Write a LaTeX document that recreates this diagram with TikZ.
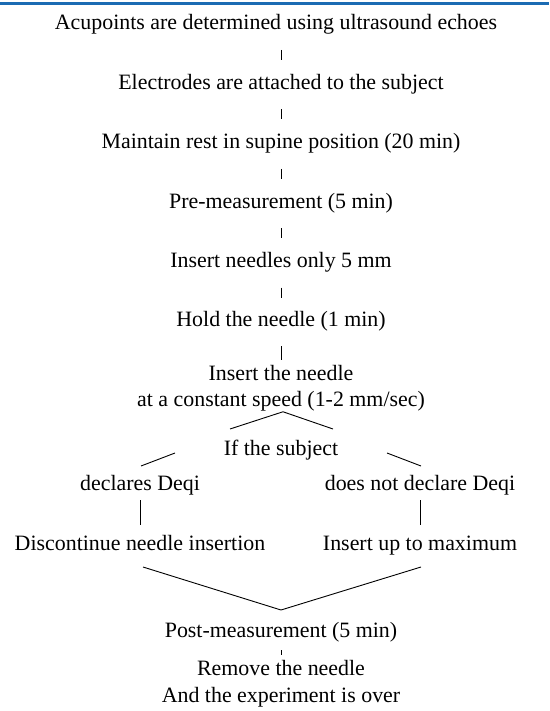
\documentclass[tikz,border=0pt]{standalone}
\usepackage{fontspec}
\setmainfont{Liberation Serif}
\usepackage{tikz}
\usetikzlibrary{positioning}
\definecolor{rulebl}{RGB}{27,107,179}
\tikzset{
  stepnode/.style={inner sep=0pt, text height=15pt, text depth=5pt,
                   font=\fontsize{21.9}{26}\selectfont},
  twoline/.style={inner sep=0pt, align=center, font=\fontsize{21.9}{26.5}\selectfont},
  link/.style={line width=0.9pt},
  bar/.style={link, shorten <=15pt, shorten >=14pt}
}
\begin{document}
\begin{tikzpicture}[x=1pt, y=-1pt, node distance=39pt]
  \useasboundingbox (0,0) rectangle (549,711);
  \fill[rulebl] (0,2) rectangle (549,5);

  \node[stepnode, anchor=base] (acu) at (276,30) {Acupoints are determined using ultrasound echoes};
  \coordinate (acubot) at (281,35);
  \node[stepnode, below=of acubot] (elec) {Electrodes are attached to the subject};
  \node[stepnode, below=of elec] (rest) {Maintain rest in supine position (20 min)};
  \node[stepnode, below=of rest] (pre) {Pre-measurement (5 min)};
  \node[stepnode, below=of pre] (ins) {Insert needles only 5 mm};
  \node[stepnode, below=of ins] (hold) {Hold the needle (1 min)};
  \node[twoline, below=33pt of hold] (speed) {Insert the needle\\at a constant speed (1-2 mm/sec)};
  \node[stepnode, anchor=base] (subj) at (281,455) {If the subject};
  \node[stepnode, anchor=base] (yes) at (140,490) {declares Deqi};
  \node[stepnode, anchor=base] (no) at (420,490) {does not declare Deqi};
  \node[stepnode, below=40pt of yes] (stop) {Discontinue needle insertion};
  \node[stepnode, below=40pt of no] (max) {Insert up to maximum};
  \node[stepnode, anchor=base] (post) at (281,637) {Post-measurement (5 min)};
  \node[twoline, below=18pt of post] (over) {Remove the needle\\And the experiment is over};

  % free ends of the slanted lines
  \coordinate (forkl) at (230,429);
  \coordinate (forkr) at (333,429);
  \coordinate (subjl) at (175,453);
  \coordinate (subjr) at (387,453);
  \coordinate (yestop) at (141,466);
  \coordinate (notop) at (421,466);
  \coordinate (stopend) at (143,567);
  \coordinate (maxend) at (421,567);
  \coordinate (join) at (281,610);

  \draw[bar] (acubot) -- (elec);
  \draw[bar] (elec) -- (rest);
  \draw[bar] (rest) -- (pre);
  \draw[bar] (pre) -- (ins);
  \draw[bar] (ins) -- (hold);
  \draw[link, shorten <=14pt, shorten >=5pt] (hold) -- (speed);
  \draw[link] (forkl) -- ([xshift=2pt]speed.south) -- (forkr);
  \draw[link] (subjl) -- (yestop);
  \draw[link] (subjr) -- (notop);
  \draw[link, shorten <=5pt, shorten >=10pt] (yes) -- (stop);
  \draw[link, shorten <=5pt, shorten >=10pt] (no) -- (max);
  \draw[link] (stopend) -- (join) -- (maxend);
  \draw[link, shorten <=8pt, shorten >=5pt] (post) -- (over);
\end{tikzpicture}
\end{document}
